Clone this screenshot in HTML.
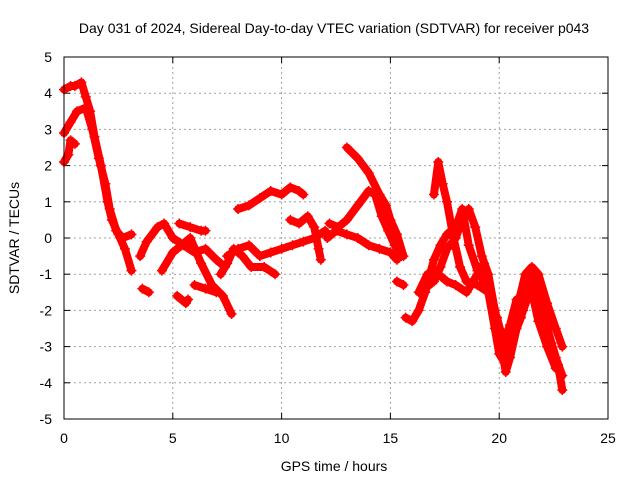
<!DOCTYPE html>
<html><head><meta charset="utf-8"><style>
body{margin:0;background:#fff}
svg{display:block;font-family:"Liberation Sans",sans-serif}
</style></head><body>
<svg id="chart" width="640" height="480">
<rect x="0" y="0" width="640" height="480" fill="#fff"/>
<text x="334" y="33" font-size="14" text-anchor="middle">Day 031 of 2024, Sidereal Day-to-day VTEC variation (SDTVAR) for receiver p043</text>
<text x="334" y="471" font-size="14" text-anchor="middle">GPS time / hours</text>
<text x="19" y="238" font-size="14" text-anchor="middle" transform="rotate(-90 19 238)">SDTVAR / TECUs</text>
<g id="grid"></g><g id="ticks"></g><g id="marks"></g>
<rect x="64" y="57" width="544" height="362" fill="none" stroke="#000" stroke-width="1"/>
</svg>
<script>
const xTicks=[0,5,10,15,20,25];
const yTicks=[-5,-4,-3,-2,-1,0,1,2,3,4,5];
const trackA=[[0,4.1],[0.3,4.2],[0.5,4.2],[0.8,4.3],[1.0,3.9],[1.2,3.5],[1.4,2.8],[1.7,2.0],[2.0,1.0],[2.2,0.5],[2.5,0.1],[2.8,-0.3],[3.1,-0.9]];
const trackB=[[0,2.9],[0.3,3.2],[0.6,3.5],[1.0,3.6],[1.3,3.0],[1.6,2.2],[1.9,1.5],[2.1,0.8],[2.4,0.2],[2.7,0.0],[3.1,0.1]];
const trackC=[[0,2.1],[0.2,2.3],[0.3,2.7],[0.5,2.6]];
const trackD=[[3.6,-1.4],[3.9,-1.5]];
const trackE=[[3.5,-0.5],[3.8,-0.1],[4.3,0.3],[4.6,0.4],[5.0,0.0],[5.5,-0.2],[6.0,-0.4],[6.5,-0.3],[7.0,-0.6],[7.4,-0.8]];
const trackF=[[4.5,-0.9],[5.0,-0.4],[5.4,-0.2],[5.8,0.0],[6.3,-0.7],[6.8,-1.3],[7.3,-1.6],[7.7,-2.1]];
const trackG=[[5.2,-1.6],[5.6,-1.8],[5.7,-1.7]];
const trackH=[[5.3,0.4],[5.8,0.3],[6.3,0.2],[6.5,0.2]];
const trackI=[[6.0,-1.3],[6.5,-1.4],[7.0,-1.5]];
const trackJ=[[7.2,-1.0],[7.5,-0.7],[7.8,-0.3],[8.2,-0.5],[8.6,-0.8],[9.2,-0.8],[9.7,-1.0]];
const trackK=[[7.5,-0.5],[8.0,-0.3],[8.5,-0.2],[9.0,-0.5],[9.5,-0.4],[10.0,-0.3],[10.5,-0.2],[11,-0.1],[11.5,0.0],[12,0.2]];
const trackL=[[8.0,0.8],[8.5,0.9],[9.0,1.1],[9.5,1.3],[10.0,1.2],[10.4,1.4],[10.8,1.3],[11.0,1.2]];
const trackM=[[10.4,0.5],[10.8,0.4],[11.2,0.6],[11.5,0.3],[11.7,-0.3],[11.8,-0.6]];
const trackN=[[12.2,0.4],[12.6,0.3],[13,0.5],[13.5,0.9],[14,1.3],[14.3,1.2],[14.6,0.6],[14.9,0.2],[15.2,-0.2],[15.5,-0.5]];
const trackO=[[13.0,2.5],[13.5,2.2],[14.0,1.8],[14.5,1.2],[14.8,0.9],[15.0,0.5],[15.3,0.1],[15.6,-0.5]];
const trackP=[[12.1,0.0],[12.5,0.2],[13.0,0.1],[13.5,0.0],[14.0,-0.2],[14.5,-0.3],[15.0,-0.4],[15.3,-0.6]];
const trackQ=[[15.3,-1.2],[15.6,-1.3]];
const trackR=[[15.7,-2.2],[16.0,-2.3],[16.3,-2.0],[16.6,-1.5],[17.0,-0.6],[17.3,-0.2],[17.6,0.1],[18.0,0.3],[18.3,0.8],[18.6,-0.2],[19,-0.9],[19.3,-1.2]];
const trackS=[[16.3,-1.5],[16.7,-1.0],[17,-1.2],[17.3,-0.8],[17.6,-0.3],[18.0,0.0],[18.3,0.5],[18.6,0.8],[18.9,0.3],[19.2,-0.5],[19.5,-1.0],[19.8,-2.0],[20.1,-3.0],[20.3,-3.7],[20.5,-3.3],[20.8,-2.5],[21.1,-2.0],[21.4,-1.5],[21.6,-1.2],[22.0,-2.0],[22.4,-2.9],[22.7,-3.5],[22.9,-4.2]];
const trackT=[[17.0,1.2],[17.2,2.1],[17.4,1.5],[17.6,1.0],[17.9,0.0],[18.2,-0.8],[18.5,-1.2],[19.0,-1.3],[19.5,-1.5],[19.8,-2.5],[20.0,-3.2],[20.3,-3.5],[20.6,-2.8],[21.0,-2.2],[21.3,-1.5],[21.5,-1.0],[21.8,-1.5],[22.2,-2.5],[22.6,-3.3],[22.9,-3.8]];
const trackU=[[16.8,-1.3],[17.2,-1.0],[17.6,-1.2],[18,-1.3],[18.5,-1.5],[19,-1.0],[19.3,-0.7],[19.6,-1.5],[20.0,-2.5],[20.4,-3.0],[20.8,-2.0],[21.2,-1.0],[21.5,-0.8],[21.8,-1.0],[22.2,-1.8],[22.6,-2.5],[22.9,-3.0]];
const trackV=[[19.9,-2.2],[20.2,-2.9],[20.5,-2.4],[20.8,-1.7],[21.1,-1.9],[21.4,-1.2],[21.8,-2.3],[22.2,-3.0],[22.6,-3.6]];
const tracks=[trackA,trackB,trackC,trackD,trackE,trackF,trackG,trackH,trackI,trackJ,trackK,trackL,trackM,trackN,trackO,trackP,trackQ,trackR,trackS,trackT,trackU,trackV];
const NS='http://www.w3.org/2000/svg';
const X0=64,X1=608,Y0=419,Y1=57;
function sx(v){return X0+(v-0)/(25-0)*(X1-X0);}
function sy(v){return Y0-(v+5)/10*(Y0-Y1);}
function mk(t,a){const e=document.createElementNS(NS,t);for(const k in a)e.setAttribute(k,a[k]);return e;}
const grid=document.getElementById('grid'),ticks=document.getElementById('ticks'),marks=document.getElementById('marks');
xTicks.forEach(v=>{const x=sx(v);
 if(v>0&&v<25){const g=mk('line',{x1:x,x2:x,y1:Y0,y2:Y1,stroke:'#a0a0a0','stroke-dasharray':'2,3'});
 
 grid.appendChild(g);}
 const t=mk('line',{x1:x,x2:x,y1:Y0,y2:Y0-6,stroke:'#000'});
 
 ticks.appendChild(t);
 const t2=mk('line',{x1:x,x2:x,y1:Y1,y2:Y1+6,stroke:'#000'});
 
 ticks.appendChild(t2);
 const l=mk('text',{x:x,y:443,'font-size':14,'text-anchor':'middle'});l.textContent=v;
 
 ticks.appendChild(l);});
yTicks.forEach(v=>{const y=sy(v);
 if(v>-5&&v<5){const g=mk('line',{x1:X0,x2:X1,y1:y,y2:y,stroke:'#a0a0a0','stroke-dasharray':'2,3'});
 
 grid.appendChild(g);}
 const t=mk('line',{x1:X0,x2:X0+6,y1:y,y2:y,stroke:'#000'});
 
 ticks.appendChild(t);
 const t2=mk('line',{x1:X1,x2:X1-6,y1:y,y2:y,stroke:'#000'});
 
 ticks.appendChild(t2);
 const l=mk('text',{x:52,y:y+5,'font-size':14,'text-anchor':'end'});l.textContent=v;
 
 ticks.appendChild(l);});
tracks.forEach(tr=>{
 const p=mk('polyline',{points:tr.map(d=>sx(d[0])+','+sy(d[1])).join(' '),fill:'none',stroke:'#f00','stroke-width':8,'stroke-linejoin':'round','stroke-linecap':'round'});
 
 marks.appendChild(p);
 tr.forEach(d=>{const x=sx(d[0]),y=sy(d[1]);
  const m=mk('path',{d:`M${x-5},${y}H${x+5}M${x},${y-5}V${y+5}`,stroke:'#f00','stroke-width':1.5});
  
  marks.appendChild(m);});
});
</script>
</body></html>
